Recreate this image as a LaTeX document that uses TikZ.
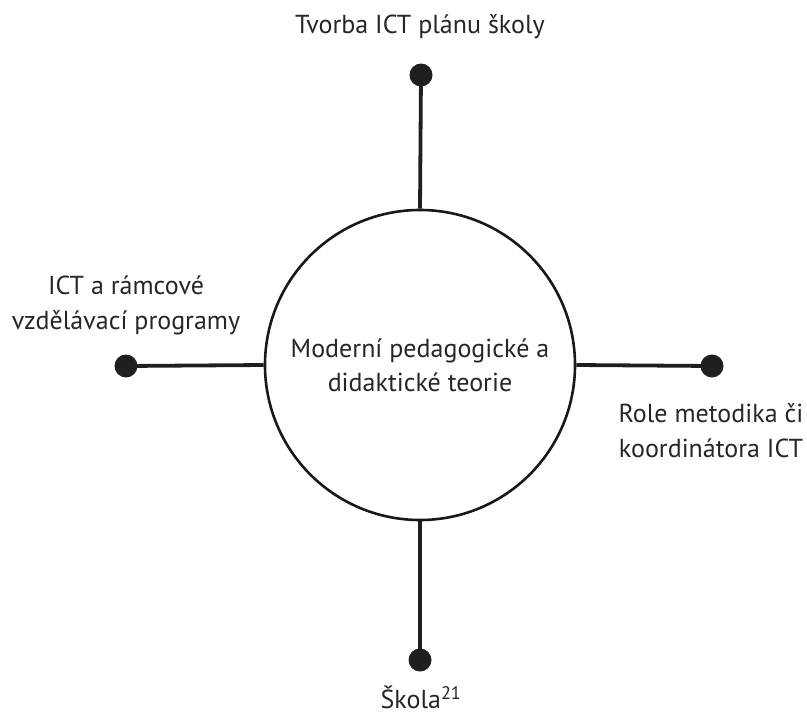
\documentclass[tikz,border=0pt]{standalone}
\usepackage{fontspec}
\setmainfont{PT Sans}
\begin{document}
\begin{tikzpicture}[x=1pt,y=-1pt,
  hub/.style={circle,draw=black!90,line width=2.6pt,minimum size=310pt,inner sep=0pt,
    align=center,font=\fontsize{26}{34}\selectfont,text=black!85},
  endpoint/.style={circle,fill=black!88,minimum size=23pt,inner sep=0pt},
  spoke/.style={line width=3.8pt,draw=black!88},
  lbl/.style={align=center,font=\fontsize{26}{35}\selectfont,text=black!85}]
\useasboundingbox (0,0) rectangle (807,718);
\node[hub] (c) at (420,365) {Moderní pedagogické a\\didaktické teorie};
\node[endpoint] (t) at (421,75) {};
\node[endpoint] (b) at (420,660) {};
\node[endpoint] (l) at (126,366) {};
\node[endpoint] (r) at (712,366) {};
\draw[spoke] (c.north) -- (t.center);
\draw[spoke] (c.south) -- (b.center);
\draw[spoke] (c.west) -- (l.center);
\draw[spoke] (c.east) -- (r.center);
\node[lbl] (tl) at (420,27) {Tvorba ICT plánu školy};
\node[lbl] (ll) at (126,305) {ICT a rámcové\\vzdělávací programy};
\node[lbl] (rl) at (711,431) {Role metodika či\\koordinátora ICT};
\node[lbl] (bl) at (421,697) {Škola\textsuperscript{21}};
\end{tikzpicture}
\end{document}
